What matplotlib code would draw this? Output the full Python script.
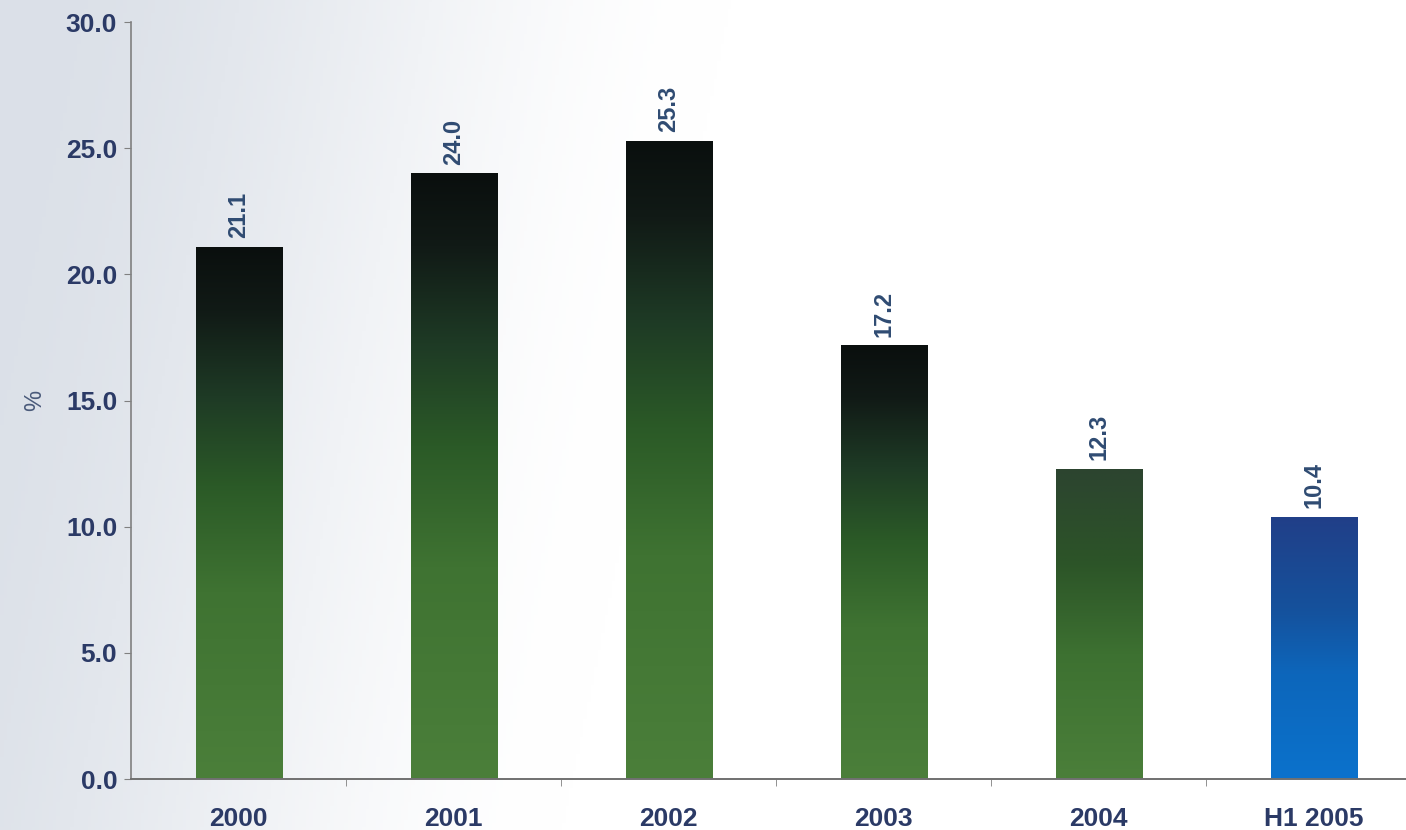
import numpy as np
import matplotlib
matplotlib.use("Agg")
import matplotlib.pyplot as plt
from matplotlib.colors import LinearSegmentedColormap

categories = ["2000", "2001", "2002", "2003", "2004", "H1 2005"]
values = [21.1, 24.0, 25.3, 17.2, 12.3, 10.4]
value_labels = ["21.1", "24.0", "25.3", "17.2", "12.3", "10.4"]
y_ticks = [0, 5, 10, 15, 20, 25, 30]
y_tick_labels = ["0.0", "5.0", "10.0", "15.0", "20.0", "25.0", "30.0"]

TEXT = "#2b3a66"
LABEL = "#2f4b72"

green_cmap = LinearSegmentedColormap.from_list(
    "green_bar",
    [(0.0, "#4b7f3a"), (0.35, "#3f7332"), (0.55, "#2b5a27"),
     (0.72, "#1e3a25"), (0.88, "#111a16"), (1.0, "#0a0f0e")])
green_soft_cmap = LinearSegmentedColormap.from_list(
    "green_bar_soft",
    [(0.0, "#4b7f3a"), (0.4, "#3d7131"), (0.7, "#2c5428"), (1.0, "#2c4430")])
blue_cmap = LinearSegmentedColormap.from_list(
    "blue_bar",
    [(0.0, "#0b72cc"), (0.4, "#0d66bb"), (0.65, "#15519c"), (1.0, "#213f88")])
bar_cmaps = [green_cmap, green_cmap, green_cmap, green_cmap, green_soft_cmap, blue_cmap]

fig = plt.figure(figsize=(14.06, 8.30), dpi=100)

# background wash: grey on the left fading to white on the right
bg = fig.add_axes([0, 0, 1, 1], zorder=-10)
xx, yy = np.meshgrid(np.linspace(0, 1, 400), np.linspace(0, 1, 240))
t = np.clip((xx - 0.02 + 0.12 * (1 - yy)) / 0.5, 0, 1)
t = t * t * (3 - 2 * t)
grey = np.array([0.86, 0.88, 0.91])
white = np.array([1.0, 1.0, 1.0])
img = grey[None, None, :] * (1 - t[..., None]) + white[None, None, :] * t[..., None]
bg.imshow(img, extent=[0, 1, 0, 1], aspect="auto", origin="lower")
bg.axis("off")

ax = fig.add_axes([0.0932, 0.0614, 0.9175, 0.912])
ax.patch.set_alpha(0)

x = np.arange(len(categories))
width = 0.4
bars = ax.bar(x, values, width=width, color="none", edgecolor="none", zorder=2)
grad = np.linspace(0, 1, 256).reshape(-1, 1)
for bar, cmap in zip(bars, bar_cmaps):
    x0, h = bar.get_x(), bar.get_height()
    im = ax.imshow(grad, cmap=cmap, origin="lower", aspect="auto",
                   extent=[x0, x0 + bar.get_width(), 0, h], zorder=2)
    im.set_clip_path(bar)

for xi, v, lab in zip(x, values, value_labels):
    ax.annotate(lab, (xi, v), xytext=(0, 6), textcoords="offset points",
                rotation=90, ha="center", va="bottom", fontsize=17,
                fontweight="bold", color=LABEL, family="Liberation Sans")

ax.set_xlim(-0.5, len(categories) - 0.5)
ax.set_ylim(0, 30)
ax.set_yticks(y_ticks)
ax.set_yticklabels(y_tick_labels)
ax.set_xticks(x)
ax.set_xticklabels(categories)
ax.set_xticks(np.arange(len(categories) - 1) + 0.5, minor=True)
ax.tick_params(axis="x", which="major", length=0, pad=20)
ax.tick_params(axis="x", which="minor", length=5, color="#808080", direction="out")
ax.tick_params(axis="y", length=5, color="#808080", pad=5)
for lab in ax.get_xticklabels() + ax.get_yticklabels():
    lab.set_fontsize(19)
    lab.set_fontweight("bold")
    lab.set_color(TEXT)
    lab.set_family("Liberation Sans")

for side in ("top", "right"):
    ax.spines[side].set_visible(False)
ax.spines["left"].set_color("#808080")
ax.spines["left"].set_linewidth(1.2)
ax.spines["bottom"].set_color("#707070")
ax.spines["bottom"].set_linewidth(1.4)

ax.set_ylabel("%", fontsize=17, color="#4a5a7a", labelpad=14, family="Liberation Sans")

fig.savefig("out.png", dpi=100)
